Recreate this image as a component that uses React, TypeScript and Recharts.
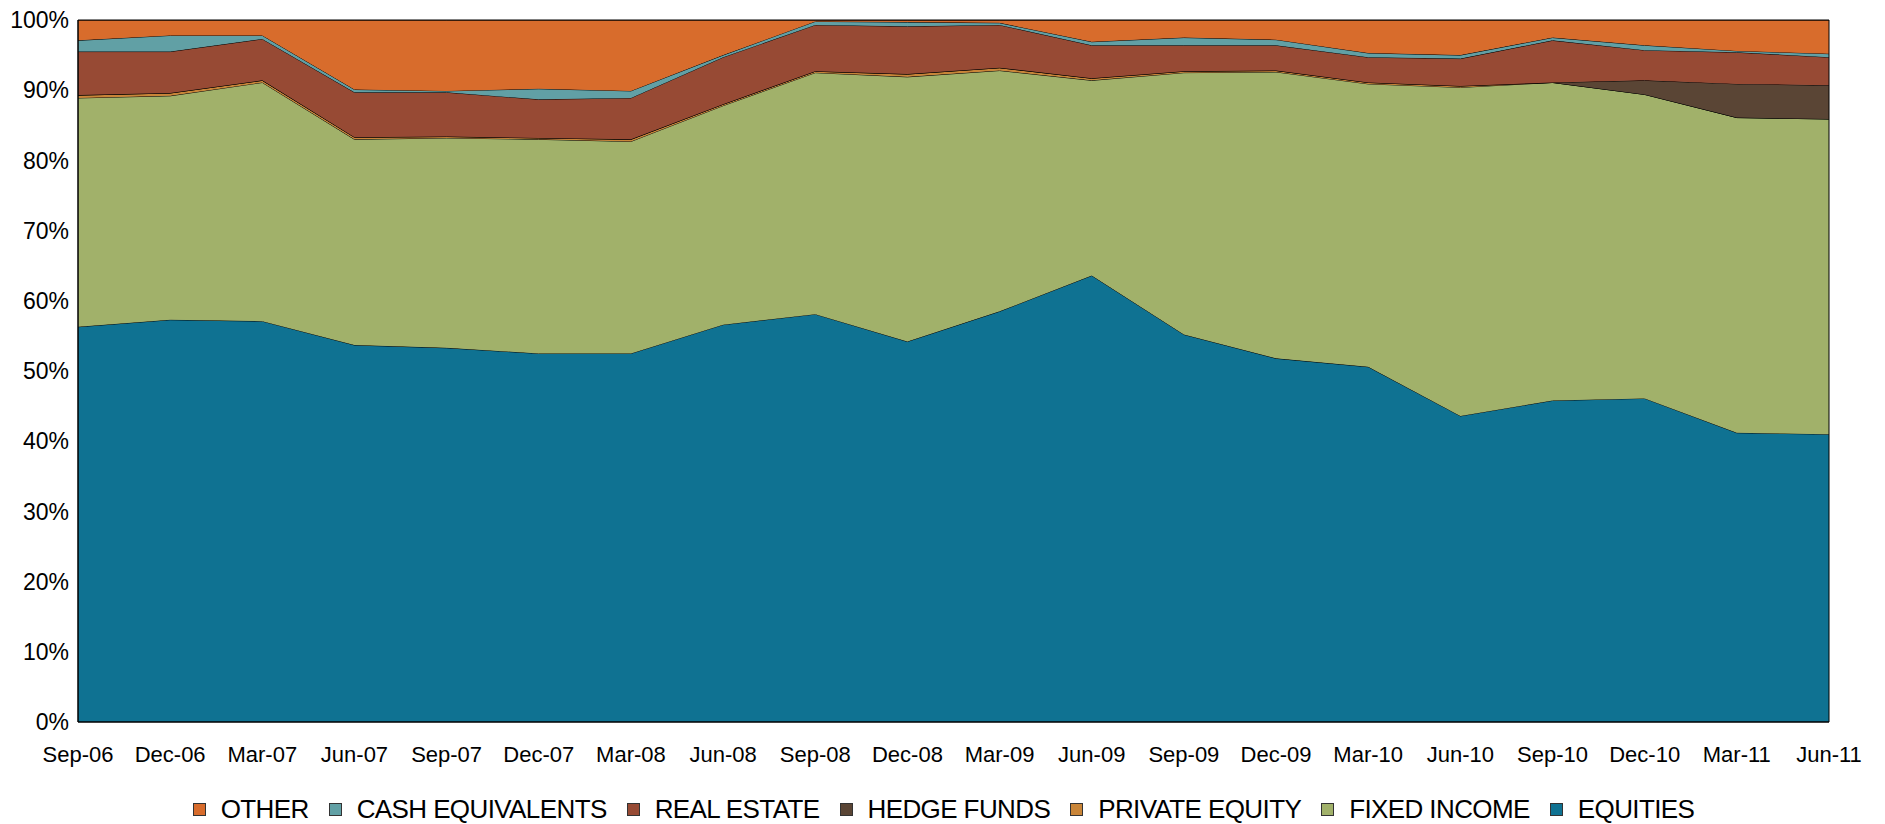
import { AreaChart, Area, XAxis, YAxis, Legend, ReferenceArea } from 'recharts';

// quarter-end labels
const quarters = [
  'Sep-06', 'Dec-06', 'Mar-07', 'Jun-07', 'Sep-07', 'Dec-07', 'Mar-08', 'Jun-08', 'Sep-08', 'Dec-08',
  'Mar-09', 'Jun-09', 'Sep-09', 'Dec-09', 'Mar-10', 'Jun-10', 'Sep-10', 'Dec-10', 'Mar-11', 'Jun-11',
];

// allocation shares in % (bottom of stack first)
const equities = [56.3, 57.3, 57.1, 53.7, 53.3, 52.5, 52.5, 56.6, 58.1, 54.2, 58.5, 63.6, 55.2, 51.8, 50.6, 43.6, 45.8, 46.1, 41.2, 41.0];
const fixedIncome = [32.6, 31.9, 34.0, 29.3, 29.9, 30.5, 30.2, 31.2, 34.4, 37.7, 34.3, 27.8, 37.3, 40.8, 40.3, 46.8, 45.3, 43.3, 44.9, 44.9];
const privateEquity = [0.4, 0.4, 0.3, 0.3, 0.2, 0.2, 0.3, 0.2, 0.2, 0.4, 0.4, 0.3, 0.2, 0.2, 0.2, 0.2, 0, 0, 0, 0];
const hedgeFunds = [0, 0, 0, 0, 0, 0, 0, 0, 0, 0, 0, 0, 0, 0, 0, 0, 0, 2.0, 4.8, 4.8];
const realEstate = [6.2, 5.9, 5.9, 6.4, 6.3, 5.5, 5.9, 6.7, 6.6, 6.8, 6.1, 4.7, 3.7, 3.6, 3.6, 3.9, 6.0, 4.3, 4.5, 4.0];
const cashEquivalents = [1.6, 2.3, 0.5, 0.4, 0.2, 1.5, 1.0, 0.3, 0.5, 0.6, 0.3, 0.5, 1.1, 0.8, 0.6, 0.5, 0.4, 0.7, 0.2, 0.5];
const other = [2.9, 2.2, 2.2, 9.9, 10.1, 9.8, 10.1, 5.0, 0.2, 0.3, 0.4, 3.1, 2.5, 2.8, 4.7, 5.0, 2.5, 3.6, 4.4, 4.8];

const yTicks = [0, 10, 20, 30, 40, 50, 60, 70, 80, 90, 100];

const series = [
  { key: 'equities', name: 'EQUITIES', color: '#0f7292', values: equities },
  { key: 'fixedIncome', name: 'FIXED INCOME', color: '#a1b16a', values: fixedIncome },
  { key: 'privateEquity', name: 'PRIVATE EQUITY', color: '#c98538', values: privateEquity },
  { key: 'hedgeFunds', name: 'HEDGE FUNDS', color: '#5a4535', values: hedgeFunds },
  { key: 'realEstate', name: 'REAL ESTATE', color: '#974a34', values: realEstate },
  { key: 'cashEquivalents', name: 'CASH EQUIVALENTS', color: '#61a0a5', values: cashEquivalents },
  { key: 'other', name: 'OTHER', color: '#d86c2c', values: other },
];

const data = quarters.map((q, i) => {
  const row: Record<string, string | number> = { quarter: q };
  series.forEach((s) => {
    row[s.key] = s.values[i];
  });
  return row;
});

const FONT = 'Arial, "Liberation Sans", sans-serif';

const renderLegend = () => (
  <div
    style={{
      height: 40,
      boxSizing: 'border-box',
      paddingTop: 10,
      display: 'flex',
      justifyContent: 'center',
      alignItems: 'center',
      fontFamily: FONT,
      fontSize: 26,
      color: '#000',
      paddingLeft: 78,
      paddingRight: 56,
    }}
  >
    {[...series].reverse().map((s) => (
      <div key={s.key} style={{ display: 'flex', alignItems: 'center', marginRight: 20 }}>
        <span
          style={{
            display: 'inline-block',
            width: 11,
            height: 11,
            background: s.color,
            border: '1px solid #333',
            marginRight: 15,
          }}
        />
        <span style={{ lineHeight: '28px', letterSpacing: -0.6 }}>{s.name}</span>
      </div>
    ))}
  </div>
);

export default function App() {
  return (
    <div style={{ position: 'absolute', left: 0, top: 0, background: '#fff' }}>
      <AreaChart
        width={1885}
        height={824}
        data={data}
        margin={{ top: 20, right: 56, bottom: 0, left: 0 }}
      >
        <XAxis
          dataKey="quarter"
          interval={0}
          tickLine={false}
          tickSize={0}
          tickMargin={24}
          axisLine={{ stroke: '#000' }}
          height={62}
          tick={{ fontSize: 22, fill: '#000', fontFamily: FONT }}
        />
        <YAxis
          domain={[0, 100]}
          ticks={yTicks}
          allowDataOverflow
          tickFormatter={(v) => `${v}%`}
          tickLine={false}
          tickSize={0}
          tickMargin={9}
          axisLine={{ stroke: '#000' }}
          width={78}
          tick={{ fontSize: 23, fill: '#000', fontFamily: FONT }}
        />
        <Legend verticalAlign="bottom" content={renderLegend} wrapperStyle={{ left: 0, width: 1885, bottom: 0 }} />
        {series.map((s) => (
          <Area
            key={s.key}
            type="linear"
            dataKey={s.key}
            name={s.name}
            stackId="alloc"
            stroke="#000"
            strokeWidth={1}
            fill={s.color}
            fillOpacity={1}
            isAnimationActive={false}
          />
        ))}
        <ReferenceArea
          x1="Sep-06"
          x2="Jun-11"
          y1={0}
          y2={100}
          fill="none"
          stroke="#000"
          strokeWidth={1}
          ifOverflow="extendDomain"
        />
      </AreaChart>
    </div>
  );
}
